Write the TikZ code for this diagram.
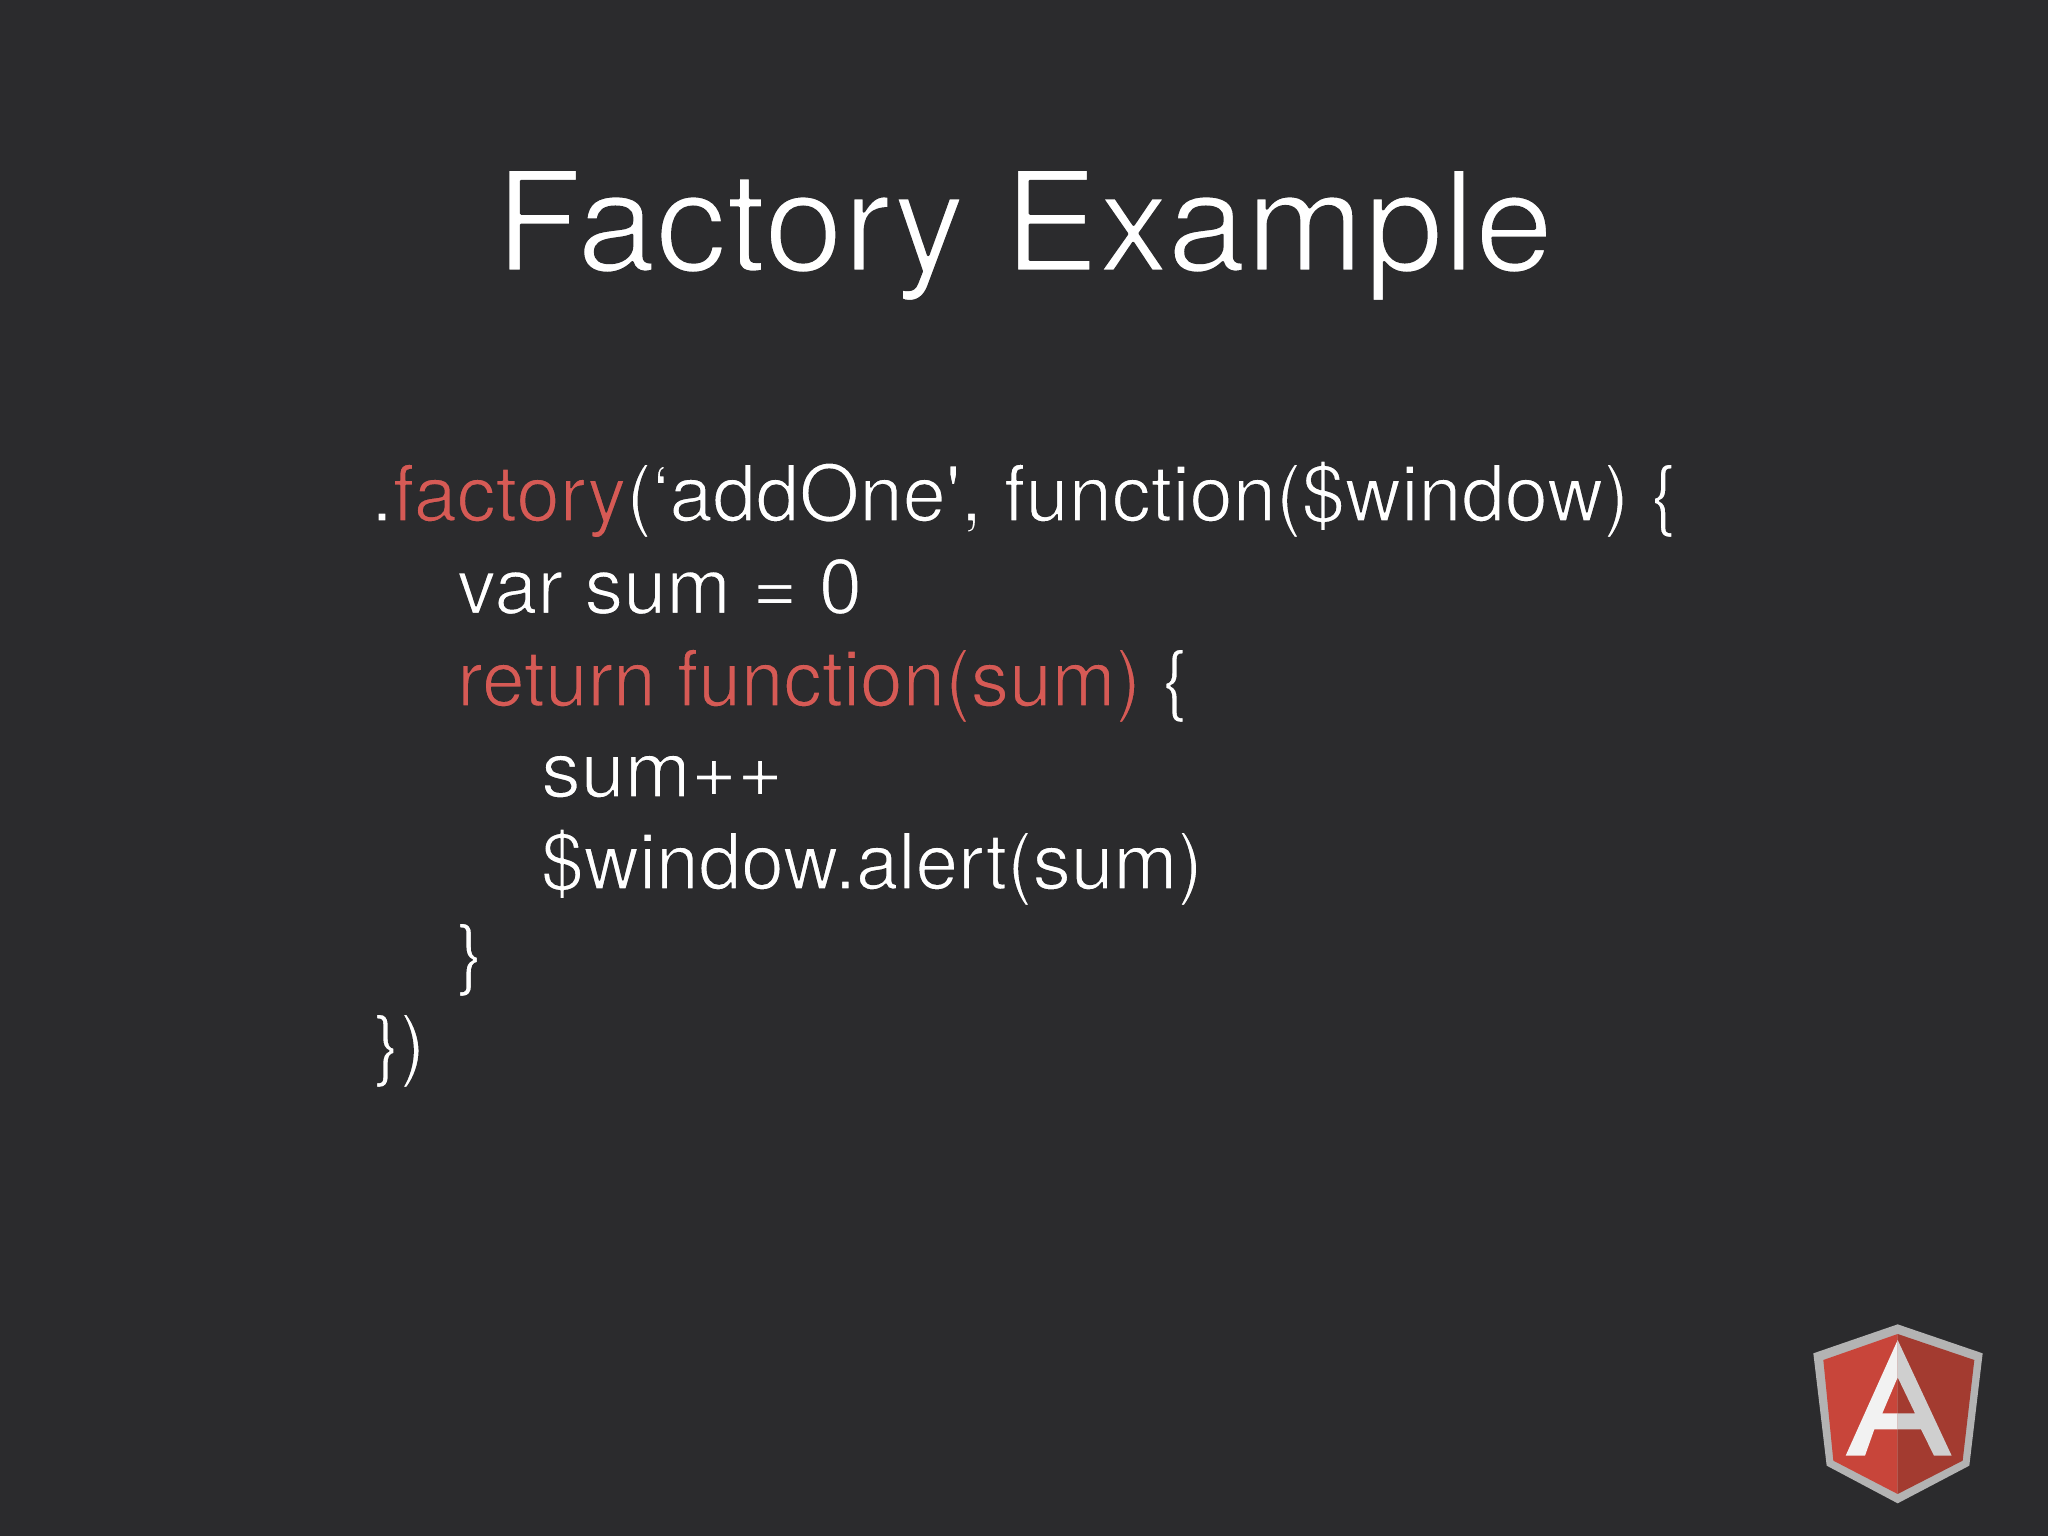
\documentclass[tikz,border=0pt]{standalone}
\usepackage{fontspec}
\setmainfont{TeX Gyre Heros}
\definecolor{bgc}{HTML}{2B2B2D}
\definecolor{codered}{HTML}{D65A55}
\definecolor{shieldL}{HTML}{C8453A}
\definecolor{shieldR}{HTML}{A33B30}
\definecolor{rim}{HTML}{B3B3B3}
\definecolor{letterL}{HTML}{F2F2F2}
\definecolor{letterR}{HTML}{CFCFCF}
\newcommand{\bgstroke}{\special{pdf:code 0.169 0.169 0.176 RG}}
\newcommand{\thinned}[3]{\scalebox{#2}[1]{\special{pdf:code q 2 Tr #1 w 1 j}\bgstroke #3\special{pdf:code Q}}}
\newcommand{\redpart}[1]{\textcolor{codered}{\bgstroke #1}\bgstroke}
\tikzset{
  titletext/.style={text=white,inner sep=0pt,anchor=base west,font=\fontsize{139}{139}\selectfont},
  codetext/.style={text=white,inner sep=0pt,anchor=base west,font=\fontsize{78}{78}\selectfont},
  px/.style={x=1pt,y=-1pt},
}
\begin{document}
\begin{tikzpicture}[px]
\useasboundingbox (0,0) rectangle (2048,1536);
\fill[bgc] (0,0) rectangle (2048,1536);
\node[titletext] (title) at (495,271) {\thinned{2.6}{1.019}{Factory Example}};
\node[codetext] (l1) at (371,521) {\thinned{1.5}{0.996}{.\redpart{factory}(‘addOne\textquotesingle, function(\$window) \{}};
\node[codetext] (l2) at (457,613.5) {\thinned{1.5}{0.992}{var sum = 0}};
\node[codetext] (l3) at (457,706) {\thinned{1.5}{0.982}{\redpart{return function(sum)} \{}};
\node[codetext] (l4) at (541,797) {\thinned{1.5}{1.015}{sum++}};
\node[codetext] (l5) at (541,889) {\thinned{1.5}{0.982}{\$window.alert(sum)}};
\node[codetext] (l6) at (457,980) {\thinned{1.5}{1}{\}}};
\node[codetext] (l7) at (374,1071) {\thinned{1.5}{0.98}{\})}};
\begin{scope}[shift={(1780,1300)},x=0.3333pt,y=-0.3333pt]
\fill[rim] (353,73) -- (608,160) -- (568,497) -- (353,610) -- (140,497) -- (100,160) -- cycle;
\fill[shieldL] (353,102) -- (353,582) -- (160,482) -- (130,180) -- cycle;
\fill[shieldR] (353,102) -- (583,180) -- (548,482) -- (353,582) -- cycle;
\fill[letterL] (353,120) -- (353,232) -- (307,340) -- (353,340) -- (353,388) -- (283,388) -- (255,467) -- (197,467) -- cycle;
\fill[letterR] (353,120) -- (515,467) -- (462,467) -- (423,388) -- (353,388) -- (353,340) -- (405,340) -- (353,232) -- cycle;
\end{scope}
\end{tikzpicture}
\end{document}
